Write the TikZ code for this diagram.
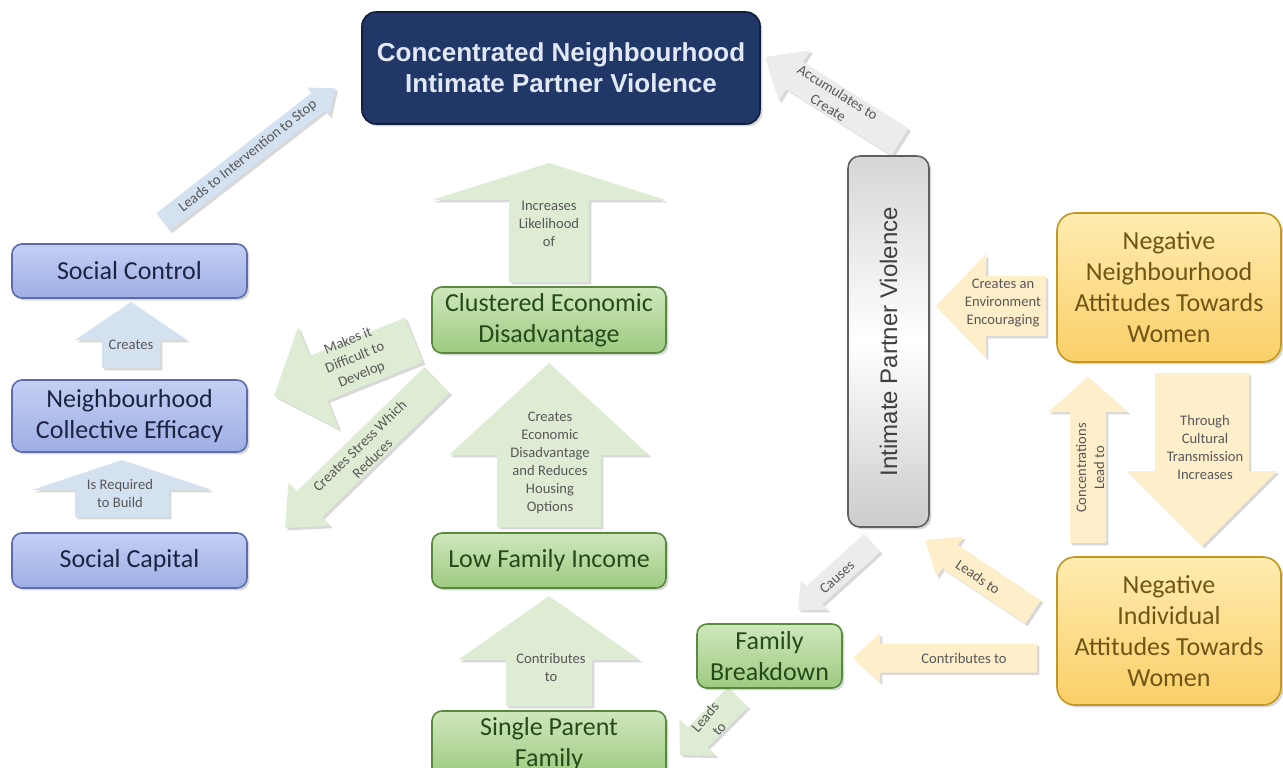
\documentclass[tikz,border=0pt]{standalone}
\usepackage{fontspec}
\setmainfont{Carlito}
\newfontfamily\arialfont{Liberation Sans}
\usetikzlibrary{calc,shadows}
\definecolor{ipvnavy}{RGB}{33,55,104}
\definecolor{ipvnavyline}{RGB}{18,30,62}
\definecolor{ipvtitle}{RGB}{226,233,246}
\definecolor{ipvblue}{RGB}{158,174,229}
\definecolor{ipvbluetop}{RGB}{196,207,244}
\definecolor{ipvblueline}{RGB}{92,108,172}
\definecolor{ipvbluetext}{RGB}{28,36,66}
\definecolor{ipvgreen}{RGB}{158,202,128}
\definecolor{ipvgreentop}{RGB}{206,231,188}
\definecolor{ipvgreenline}{RGB}{88,138,62}
\definecolor{ipvgreentext}{RGB}{36,76,26}
\definecolor{ipvgold}{RGB}{250,207,104}
\definecolor{ipvgoldtop}{RGB}{255,236,176}
\definecolor{ipvgoldline}{RGB}{196,150,34}
\definecolor{ipvgoldtext}{RGB}{112,86,22}
\definecolor{ipvgreyline}{RGB}{96,96,96}
\definecolor{ipvgreytext}{RGB}{64,64,64}
\definecolor{arrblue}{RGB}{212,225,241}
\definecolor{arrgreen}{RGB}{222,236,212}
\definecolor{arrgold}{RGB}{255,238,202}
\definecolor{arrgrey}{RGB}{236,236,236}
\definecolor{lbltext}{RGB}{88,88,88}
\tikzset{shd/.style={drop shadow={opacity=0.3,shadow xshift=1.2pt,shadow yshift=-1.2pt}},
  box/.style={shd,draw,line width=0.8pt,rounded corners=5pt,inner sep=0pt,align=center,font=\fontsize{13}{15.5}\selectfont},
  bluebox/.style={box,draw=ipvblueline,top color=ipvbluetop,bottom color=ipvblue,text=ipvbluetext,minimum width=117.5pt},
  greenbox/.style={box,draw=ipvgreenline,top color=ipvgreentop,bottom color=ipvgreen,text=ipvgreentext},
  goldbox/.style={box,rounded corners=9pt,draw=ipvgoldline,top color=ipvgoldtop,bottom color=ipvgold,text=ipvgoldtext,minimum width=112pt,minimum height=74.5pt},
  titlebox/.style={box,rounded corners=7pt,draw=ipvnavyline,fill=ipvnavy,text=ipvtitle,font=\arialfont\bfseries\fontsize{13}{15.5}\selectfont},
  greybox/.style={box,rounded corners=6pt,draw=ipvgreyline,top color=gray!32,bottom color=gray!40,middle color=white,text=ipvgreytext,font=\arialfont\fontsize{12}{14}\selectfont},
  blockblue/.style={shd,fill=arrblue},
  blockgreen/.style={shd,fill=arrgreen},
  blockgold/.style={shd,fill=arrgold},
  blockgrey/.style={shd,fill=arrgrey},
  lbl/.style={text=lbltext,align=center,inner sep=0pt,font=\fontsize{7.3}{9}\selectfont}}
% style, tail, tip, shaft half width, head half width, head length (px)
\newcommand\blockarrow[6]{\path[#1] let \p1=(#2),\p2=(#3),\n1={atan2(\y2-\y1,\x2-\x1)},\n2={veclen(\x2-\x1,\y2-\y1)} in
  [shift={(\p1)},rotate=\n1] (0pt,{#4*0.5pt}) -- ({\n2-#6*0.5pt},{#4*0.5pt}) -- ({\n2-#6*0.5pt},{#5*0.5pt}) -- ({\n2*1pt},0pt)
  -- ({\n2-#6*0.5pt},{-#5*0.5pt}) -- ({\n2-#6*0.5pt},{-#4*0.5pt}) -- (0pt,{-#4*0.5pt}) -- cycle;}

\begin{document}
\begin{tikzpicture}[x=0.5pt,y=-0.5pt]
\useasboundingbox (0,0) rectangle (1283,767);
\fill[white] (0,0) rectangle (1283,767);
\clip (0,0) rectangle (1283,767);

\coordinate (interA) at (163,222); \coordinate (interB) at (336,88);
\coordinate (createsA) at (131,368); \coordinate (createsB) at (131,302);
\coordinate (buildA) at (122,517); \coordinate (buildB) at (122,460);
\coordinate (likelyA) at (549,282); \coordinate (likelyB) at (549,163);
\coordinate (econA) at (549,527); \coordinate (econB) at (549,363);
\coordinate (contribA) at (549,706); \coordinate (contribB) at (549,596);
\coordinate (diffA) at (414,340); \coordinate (diffB) at (274,396);
\coordinate (stressA) at (437,380); \coordinate (stressB) at (285,528);
\coordinate (accumA) at (900,142); \coordinate (accumB) at (765,57);
\coordinate (envA) at (1046,306); \coordinate (envB) at (936,306);
\coordinate (concA) at (1088,543); \coordinate (concB) at (1088,377);
\coordinate (cultA) at (1202,373); \coordinate (cultB) at (1202,546);
\coordinate (leadsA) at (1033,612); \coordinate (leadsB) at (925,540);
\coordinate (toFamA) at (1037,658); \coordinate (toFamB) at (853,658);
\coordinate (causesA) at (872,543); \coordinate (causesB) at (798,610);
\coordinate (famA) at (738,697); \coordinate (famB) at (680,755);

\blockarrow{blockblue}{interA}{interB}{11}{18}{22}
\blockarrow{blockblue}{createsA}{createsB}{29}{56}{38}
\blockarrow{blockblue}{buildA}{buildB}{47}{90}{30}
\blockarrow{blockgreen}{likelyA}{likelyB}{40}{117}{37}
\blockarrow{blockgreen}{econA}{econB}{52}{100}{92}
\blockarrow{blockgreen}{contribA}{contribB}{43}{91}{64}
\blockarrow{blockgreen}{diffA}{diffB}{24}{55}{48}
\blockarrow{blockgreen}{stressA}{stressB}{18}{30}{34}
\blockarrow{blockgrey}{accumA}{accumB}{16}{30}{35}
\blockarrow{blockgold}{envA}{envB}{30}{52}{50}
\blockarrow{blockgold}{concA}{concB}{18}{40}{35}
\blockarrow{blockgold}{cultA}{cultB}{47}{75}{75}
\blockarrow{blockgold}{leadsA}{leadsB}{14}{24}{30}
\blockarrow{blockgold}{toFamA}{toFamB}{14.5}{25}{27}
\blockarrow{blockgrey}{causesA}{causesB}{12}{20}{22}
\blockarrow{blockgreen}{famA}{famB}{14}{26}{25}

\node[lbl,rotate=38.5] (lInter) at (248,156) {Leads to Intervention to Stop};
\node[lbl] (lCreates) at (131,345) {Creates};
\node[lbl] (lBuild) at (120,493) {Is Required\\to Build};
\node[lbl] (lLikely) at (549,224) {Increases\\Likelihood\\of};
\node[lbl] (lEcon) at (550,463) {Creates\\Economic\\Disadvantage\\and Reduces\\Housing\\Options};
\node[lbl] (lContrib) at (551,667) {Contributes\\to};
\node[lbl,rotate=22] (lDiff) at (355,358) {Makes it\\Difficult to\\Develop};
\node[lbl,rotate=44.5] (lStress) at (366,452) {Creates Stress Which\\Reduces};
\node[lbl,rotate=-32] (lAccum) at (833,100) {Accumulates to\\Create};
\node[lbl] (lEnv) at (1003,303) {Creates an\\Environment\\Encouraging};
\node[lbl,rotate=90] (lConc) at (1090,468) {Concentrations\\Lead to};
\node[lbl] (lCult) at (1205,447) {Through\\Cultural\\Transmission\\Increases};
\node[lbl,rotate=-34] (lLeads) at (978,577) {Leads to};
\node[lbl] (lToFam) at (964,658) {Contributes to};
\node[lbl,rotate=42] (lCauses) at (837,577) {Causes};
\node[lbl,rotate=50] (lFam) at (712,723) {Leads\\to};

\node[titlebox,minimum width=199pt,minimum height=56pt] (title) at (561,68) {Concentrated Neighbourhood\\Intimate Partner Violence};
\node[bluebox,minimum height=27pt] (control) at (129.5,271) {Social Control};
\node[bluebox,minimum height=36pt] (efficacy) at (129.5,416) {Neighbourhood\\Collective Efficacy};
\node[bluebox,minimum height=27.5pt] (capital) at (129.5,560.5) {Social Capital};
\node[greenbox,minimum width=117pt,minimum height=33pt] (cluster) at (549,320) {Clustered Economic\\Disadvantage};
\node[greenbox,minimum width=117pt,minimum height=27.5pt] (income) at (549,560.5) {Low Family Income};
\node[greenbox,minimum width=117pt,minimum height=33pt] (single) at (549,744) {Single Parent\\Family};
\node[greenbox,minimum width=72.5pt,minimum height=32pt] (breakdown) at (769.5,656) {Family\\Breakdown};
\node[greybox,rotate=90,minimum width=185.5pt,minimum height=40.5pt] (ipv) at (888.5,341.5) {Intimate Partner Violence};
\node[goldbox] (attnbhd) at (1169,287.5) {Negative\\Neighbourhood\\Attitudes Towards\\Women};
\node[goldbox,minimum height=74pt] (attind) at (1169,631) {Negative\\Individual\\Attitudes Towards\\Women};
\end{tikzpicture}
\end{document}
